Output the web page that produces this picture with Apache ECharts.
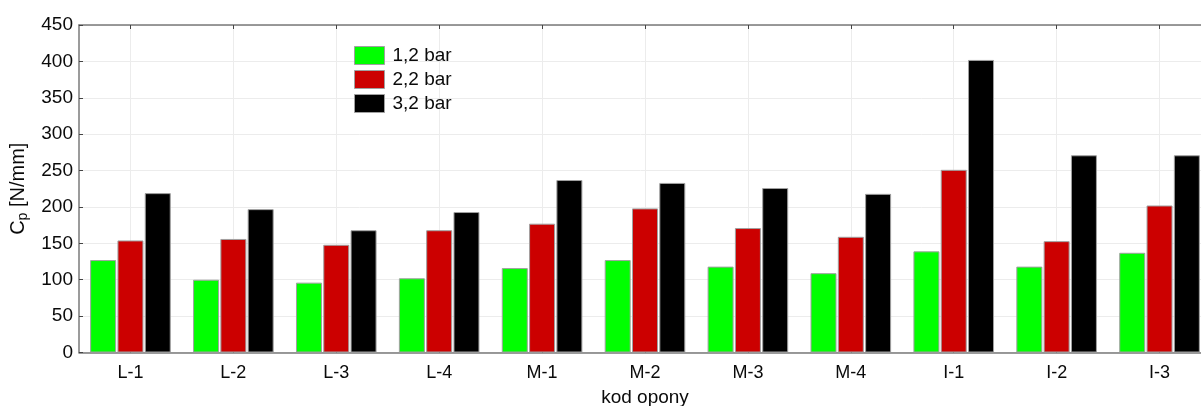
<!DOCTYPE html>
<html>
<head>
<meta charset="utf-8">
<script src="https://cdn.jsdelivr.net/npm/echarts@6/dist/echarts.min.js"></script>
<style>
html,body{margin:0;padding:0;background:#fff;}
#chart{width:1201px;height:406px;}
</style>
</head>
<body>
<div id="chart"></div>
<script>
const categories = ['L-1','L-2','L-3','L-4','M-1','M-2','M-3','M-4','I-1','I-2','I-3'];
const bar12 = [127, 100, 96, 102, 116, 127, 118, 109, 139, 118, 137];
const bar22 = [154, 156, 148, 168, 177, 198, 171, 159, 251, 153, 202];
const bar32 = [219, 197, 168, 193, 237, 233, 226, 218, 402, 271, 271];
const seriesNames = ['1,2 bar', '2,2 bar', '3,2 bar'];
const yTicks = [0, 50, 100, 150, 200, 250, 300, 350, 400, 450];

const FONT = 'Liberation Sans';
const chart = echarts.init(document.getElementById('chart'), null, {renderer: 'canvas'});
const axisGray = '#7a7a7a';
const gridGray = '#ececec';

function barSeries(name, data, color) {
  return {
    name: name, type: 'bar', data: data,
    barWidth: 26, barGap: '5%',
    itemStyle: {color: color, borderColor: '#a0a0a0', borderWidth: 1},
    emphasis: {disabled: true},
    animation: false
  };
}

chart.setOption({
  animation: false,
  textStyle: {fontFamily: FONT},
  grid: {left: 79, top: 25, width: 1132, height: 327.5, containLabel: false, outerBoundsMode: 'none'},
  legend: {
    orient: 'vertical', left: 354, top: 46, padding: 0,
    itemWidth: 30, itemHeight: 18, itemGap: 5,
    icon: 'rect',
    itemStyle: {borderColor: '#a0a0a0', borderWidth: 1},
    textStyle: {fontFamily: FONT, fontSize: 19, color: '#0a0a0a', padding: [0, 0, 0, 3]},
    data: seriesNames
  },
  xAxis: [{
    type: 'category', data: categories, position: 'bottom',
    axisLine: {show: true, lineStyle: {color: axisGray, width: 1.5}},
    axisTick: {show: true, inside: true, length: 4, alignWithLabel: true, lineStyle: {color: '#444'}},
    axisLabel: {fontFamily: FONT, fontSize: 18, color: '#0a0a0a', margin: 12},
    splitLine: {show: true, alignWithLabel: true, lineStyle: {color: gridGray, width: 1}},
    name: 'kod opony', nameLocation: 'middle', nameGap: 36,
    nameTextStyle: {fontFamily: FONT, fontSize: 19, color: '#0a0a0a'}
  }, {
    type: 'category', data: categories, position: 'top',
    axisLine: {show: true, lineStyle: {color: axisGray, width: 1.5}},
    axisTick: {show: true, inside: true, length: 4, alignWithLabel: true, lineStyle: {color: '#444'}},
    axisLabel: {show: false},
    splitLine: {show: false}
  }],
  yAxis: {
    type: 'value', min: 0, max: 450, interval: 50,
    axisLine: {show: true, lineStyle: {color: axisGray, width: 1.5}},
    axisTick: {show: true, inside: true, length: 4, lineStyle: {color: '#444'}},
    axisLabel: {fontFamily: FONT, fontSize: 19, color: '#0a0a0a', margin: 6,
      formatter: function (v) { return yTicks.indexOf(v) >= 0 ? String(v) : ''; }},
    splitLine: {show: true, lineStyle: {color: gridGray, width: 1}},
    name: '{a|C}{b|p}{a| [N/mm]}', nameLocation: 'middle', nameGap: 45,
    nameTextStyle: {
      fontFamily: FONT, fontSize: 20, color: '#0a0a0a',
      rich: {
        a: {fontFamily: FONT, fontSize: 20, color: '#0a0a0a'},
        b: {fontFamily: FONT, fontSize: 14, color: '#0a0a0a', verticalAlign: 'bottom', padding: [10, 0, 0, 0]}
      }
    }
  },
  series: [
    barSeries(seriesNames[0], bar12, '#00ff00'),
    barSeries(seriesNames[1], bar22, '#cc0000'),
    barSeries(seriesNames[2], bar32, '#000000')
  ]
});
</script>
</body>
</html>
